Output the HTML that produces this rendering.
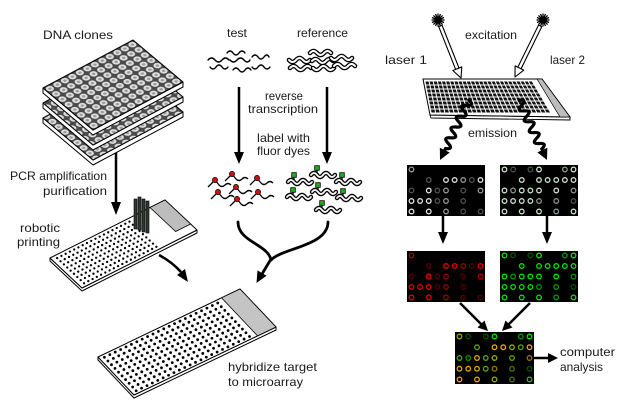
<!DOCTYPE html>
<html><head><meta charset="utf-8">
<style>
html,body{margin:0;padding:0;background:#fff;width:623px;height:408px;overflow:hidden}
svg{display:block}
text{font-family:"Liberation Sans",sans-serif;font-size:12px;fill:#1a1a1a}
</style></head><body>
<svg id="s" width="623" height="408" viewBox="0 0 623 408" xmlns="http://www.w3.org/2000/svg">
<defs>
<pattern id="wells" patternUnits="userSpaceOnUse" width="1" height="1" patternTransform="matrix(7.5,-4,6.25,5.25,43,88)">
<rect width="1" height="1" fill="#4a4a4a"/>
<circle cx="0.5" cy="0.5" r="0.41" fill="#e0e0e0"/>
<circle cx="0.5" cy="0.5" r="0.18" fill="#9a9a9a"/>
</pattern>
</defs>
<rect width="623" height="408" fill="#fff"/>

<!-- left vertical arrow (behind plates) -->
<line x1="116" y1="150" x2="116" y2="204" stroke="#000" stroke-width="2.5"/>
<polygon points="111,202 121,202 116,215" fill="#000"/>

<!-- plates stack -->
<g stroke="#000" stroke-width="1" stroke-linejoin="round">
<polygon points="43,118 93,160 183,112 183,117 93,165 43,123" fill="#fff"/>
<polygon points="43,118 133,70 183,112 93,160" fill="url(#wells)"/>
<polygon points="43,103 93,145 183,97 183,102 93,150 43,108" fill="#fff"/>
<polygon points="43,103 133,55 183,97 93,145" fill="url(#wells)"/>
<polygon points="43,88 93,130 183,82 183,87 93,135 43,93" fill="#fff"/>
<polygon points="43,88 133,40 183,82 93,130" fill="url(#wells)"/>
</g>

<!-- robotic printing slide -->
<g stroke="#000" stroke-width="1" stroke-linejoin="round">
<polygon points="50,258 82,288 197,230 197,233 82,291 50,261" fill="#fff"/>
<polygon points="50,258 165,200 197,230 82,288" fill="#fff"/>
</g>
<g id="rdots"></g>
<polygon points="150,207.5 165,200 190.6,224 175.6,231.5" fill="#bdbdbd" stroke="#000" stroke-width="0.8"/>
<g fill="#2f3a34" stroke="#000" stroke-width="0.6">
<rect x="134" y="199" width="3" height="30"/>
<rect x="138" y="197" width="3" height="33"/>
<rect x="142" y="199" width="3" height="33"/>
<rect x="146" y="201" width="3" height="32"/>
</g>

<!-- arrow robotic -> hybridize -->
<path d="M159 255 Q172 262 181 272" fill="none" stroke="#000" stroke-width="2.5"/>
<polygon points="185,269 177,275 188,282" fill="#000"/>

<!-- big hybridization slide -->
<g stroke="#000" stroke-width="1" stroke-linejoin="round">
<polygon points="98,357 134,395 276,327 276,330 134,398 98,360" fill="#fff"/>
<polygon points="98,357 240,289 276,327 134,395" fill="#fff"/>
</g>
<g id="bdots"></g>
<polygon points="221.5,297.8 240,289 276,327 257.5,335.8" fill="#c4c4c4" stroke="#000" stroke-width="0.8"/>

<!-- test / reference squiggles -->
<g fill="none" stroke="#000" stroke-width="1.4" stroke-linecap="round">
<path d="M227 53 q3 -4 6 0 t6 0 t6 0"/>
<path d="M208 60 q3.5 -4 7 0 t7 0 t7 0"/>
<path d="M230 60 q3.5 4 7 0 t7 0 t6 0"/>
<path d="M252 57 q3 -4 6 0 t6 0 t5 0"/>
<path d="M210 67 q3 4 6 0 t6 0 t6 0"/>
<path d="M233 70 q3 -4 6 0 t6 0 t6 0"/>
<path d="M252 67 q3 4 6 0 t6 0 t6 0"/>
</g>
<g id="refsq"></g>

<!-- vertical arrows test/ref -->
<line x1="239" y1="87" x2="239" y2="154" stroke="#000" stroke-width="2.5"/>
<polygon points="234,152 244,152 239,164" fill="#000"/>
<line x1="327" y1="87" x2="327" y2="154" stroke="#000" stroke-width="2.5"/>
<polygon points="322,152 332,152 327,164" fill="#000"/>

<g id="mol"></g>

<!-- merging curved arrow -->
<g fill="none" stroke="#000" stroke-width="2.8" stroke-linecap="round">
<path d="M238 222 C238 242 268 244 271 260"/>
<path d="M328 222 C328 246 282 248 271 260"/>
<path d="M271 259 L262 274"/>
</g>
<polygon points="266.5,275.8 257.5,270.4 256.5,283" fill="#000"/>

<!-- right: scanning slide -->
<polygon points="430,115 570,117 570,120 431,118" fill="#fff" stroke="#000" stroke-width="0.9"/>
<polygon points="423,79 542,79 570,117 430,115" fill="#fff" stroke="#000" stroke-width="1"/>
<g id="sgrid"></g>
<polygon points="537,79 542,79 570,117 560,117" fill="#bcbcbc" stroke="#000" stroke-width="0.7"/>

<g id="lasers"></g>
<g id="waves"></g>

<!-- panels -->
<rect x="407" y="165" width="78" height="51" fill="#000"/>
<rect x="500" y="165" width="78" height="51" fill="#000"/>
<rect x="407" y="251" width="78" height="51" fill="#000"/>
<rect x="500" y="251" width="78" height="51" fill="#000"/>
<rect x="455" y="332" width="79" height="52" fill="#000"/>
<g id="spots"></g>

<!-- panel arrows -->
<line x1="443" y1="216" x2="443" y2="234" stroke="#000" stroke-width="2.5"/>
<polygon points="438,232 448,232 443,244" fill="#000"/>
<line x1="547" y1="216" x2="547" y2="234" stroke="#000" stroke-width="2.5"/>
<polygon points="542,232 552,232 547,244" fill="#000"/>
<line x1="460" y1="303" x2="482" y2="325" stroke="#000" stroke-width="2.5"/>
<polygon points="484.5,320.5 477.5,327.5 488,331" fill="#000"/>
<line x1="530" y1="303" x2="508" y2="325" stroke="#000" stroke-width="2.5"/>
<polygon points="512.5,327.5 505.5,320.5 502,331" fill="#000"/>
<line x1="534" y1="358" x2="549" y2="358" stroke="#000" stroke-width="2.5"/>
<polygon points="548,353 548,363 558,358" fill="#000"/>

<!-- labels -->
<text x="43" y="39" textLength="70" lengthAdjust="spacingAndGlyphs">DNA clones</text>
<text x="10" y="180" textLength="97" lengthAdjust="spacingAndGlyphs">PCR amplification</text>
<text x="43" y="195" textLength="64" lengthAdjust="spacingAndGlyphs">purification</text>
<text x="20" y="232" textLength="40" lengthAdjust="spacingAndGlyphs">robotic</text>
<text x="17" y="246" textLength="43" lengthAdjust="spacingAndGlyphs">printing</text>
<text x="227" y="37" textLength="20" lengthAdjust="spacingAndGlyphs">test</text>
<text x="297" y="37" textLength="51" lengthAdjust="spacingAndGlyphs">reference</text>
<text x="265" y="100" textLength="38" lengthAdjust="spacingAndGlyphs">reverse</text>
<text x="248" y="113" textLength="70" lengthAdjust="spacingAndGlyphs">transcription</text>
<text x="257" y="142" textLength="53" lengthAdjust="spacingAndGlyphs">label with</text>
<text x="257" y="155" textLength="53" lengthAdjust="spacingAndGlyphs">fluor dyes</text>
<text x="465" y="39" textLength="52" lengthAdjust="spacingAndGlyphs">excitation</text>
<text x="385" y="64" textLength="42" lengthAdjust="spacingAndGlyphs">laser 1</text>
<text x="550" y="64" textLength="35" lengthAdjust="spacingAndGlyphs">laser 2</text>
<text x="468" y="137" textLength="49" lengthAdjust="spacingAndGlyphs">emission</text>
<text x="228" y="371" textLength="89" lengthAdjust="spacingAndGlyphs">hybridize target</text>
<text x="228" y="386" textLength="75" lengthAdjust="spacingAndGlyphs">to microarray</text>
<text x="560" y="356" textLength="55" lengthAdjust="spacingAndGlyphs">computer</text>
<text x="560" y="371" textLength="43" lengthAdjust="spacingAndGlyphs">analysis</text>
</svg>
<script>
(function(){
var NS='http://www.w3.org/2000/svg';
function el(tag,a,p){var e=document.createElementNS(NS,tag);for(var k in a)e.setAttribute(k,a[k]);p.appendChild(e);return e;}
function g(id){return document.getElementById(id);}
// robotic dots
var rd=g('rdots');
for(var i=0;i<18;i++)for(var j=0;j<9;j++){
 var s=0.04+i*0.037,t=0.08+j*0.105;
 el('circle',{cx:50+115*s+32*t,cy:258-58*s+30*t,r:1.15,fill:'#000'},rd);
}
// big dots
var bd=g('bdots');
for(var i=0;i<22;i++)for(var j=0;j<10;j++){
 var s=0.03+i*0.038,t=0.06+j*0.098;
 el('circle',{cx:98+142*s+36*t,cy:357-68*s+38*t,r:1.4,fill:'#000'},bd);
}
// reference squiggles (outlined)
var rs=g('refsq');
var rp=["M310 53 q3.5 -4 7 0 t7 0 t7 0","M289 60 q3.5 4 7 0 t7 0 t7 0","M312 61 q3.5 -4 7 0 t7 0 t7 0","M331 58 q3.5 4 7 0 t7 0 t7 0","M290 68 q3.5 -4 7 0 t7 0 t7 0","M313 68 q3.5 4 7 0 t7 0 t7 0","M334 66 q3.5 -4 7 0 t7 0 t7 0"];
rp.forEach(function(d){
 el('path',{d:d,fill:'none',stroke:'#000','stroke-width':4.6,'stroke-linecap':'round'},rs);
 el('path',{d:d,fill:'none',stroke:'#fff','stroke-width':2,'stroke-linecap':'round'},rs);
});
// labeled molecules
var m=g('mol');
[[215,180],[232,174],[257,178],[236,187],[218,192],[258,192],[237,199]].forEach(function(p){
 var x=p[0],y=p[1];
 el('path',{d:'M'+x+' '+y+' l-7 7 M'+x+' '+y+' l4 5 q3 3 6 0 t6 0',fill:'none',stroke:'#000','stroke-width':1.3},m);
 el('circle',{cx:x,cy:y,r:2.6,fill:'#d01010',stroke:'#000','stroke-width':0.7},m);
});
[[294,175],[317,168],[342,175],[293,190],[318,185],[343,191],[322,203]].forEach(function(p){
 var x=p[0],y=p[1];
 var d='M'+(x-6)+' '+(y+7)+' q3 -4 6 0 t6 0 t6 0 t6 0';
 el('line',{x1:x,y1:y,x2:x,y2:y+6,stroke:'#000','stroke-width':1.2},m);
 el('path',{d:d,fill:'none',stroke:'#000','stroke-width':4.4,'stroke-linecap':'round'},m);
 el('path',{d:d,fill:'none',stroke:'#fff','stroke-width':1.8,'stroke-linecap':'round'},m);
 el('rect',{x:x-2.3,y:y-2.3,width:4.6,height:4.6,fill:'#19b319',stroke:'#000','stroke-width':0.8},m);
});
// scanner slide grid
var sg=g('sgrid');
var y0=81,y1=113;
function xl(y){return 424.5+(y-79)/36*7;}
function xr(y){return 531+(y-79)/36*21;}
el('polygon',{points:xl(y0)+','+y0+' '+xr(y0)+','+y0+' '+xr(y1)+','+y1+' '+xl(y1)+','+y1,fill:'#111'},sg);
var nr=8,nc=26;
for(var k=0;k<=nr;k++){var y=y0+k*(y1-y0)/nr;el('line',{x1:xl(y),y1:y,x2:xr(y),y2:y,stroke:'#fff','stroke-width':1},sg);}
for(var k=0;k<=nc;k++){var a=xl(y0)+(xr(y0)-xl(y0))*k/nc,b=xl(y1)+(xr(y1)-xl(y1))*k/nc;el('line',{x1:a,y1:y0,x2:b,y2:y1,stroke:'#fff','stroke-width':1},sg);}
// lasers
var ls=g('lasers');
[[438,20],[543,20]].forEach(function(c){
 for(var k=0;k<16;k++){var an=k*Math.PI/8;el('line',{x1:c[0],y1:c[1],x2:c[0]+6.5*Math.cos(an),y2:c[1]+6.5*Math.sin(an),stroke:'#000','stroke-width':1.3},ls);}
 el('circle',{cx:c[0],cy:c[1],r:3.8,fill:'#000'},ls);
});
function hollow(tx,ty,ang,len){
 var gg=el('g',{transform:'translate('+tx+','+ty+') rotate('+ang+')'},ls);
 el('rect',{x:-len,y:-1.8,width:len-9,height:3.6,fill:'#fff',stroke:'#000','stroke-width':1.1},gg);
 el('polygon',{points:'0,0 -10,-4.8 -10,4.8',fill:'#fff',stroke:'#000','stroke-width':1.1,'stroke-linejoin':'round'},gg);
}
hollow(461,78,68.4,56);
hollow(515,77,116.2,57);
// emission waves
var wv=g('waves');
function wave(x0,y0,x1,y1){
 var dx=x1-x0,dy=y1-y0,L=Math.sqrt(dx*dx+dy*dy),ang=Math.atan2(dy,dx)*180/Math.PI;
 var gg=el('g',{transform:'translate('+x0+','+y0+') rotate('+ang+')'},wv);
 var h=6,d='M0 0',x=0,sgn=-1;
 while(x+h<=L-11){d+=' Q'+(x+h/2)+' '+(sgn*8)+' '+(x+h)+' 0';x+=h;sgn=-sgn;}
 d+=' L'+(L-10)+' 0';
 el('path',{d:d,fill:'none',stroke:'#000','stroke-width':3.2,'stroke-linecap':'round'},gg);
 el('polygon',{points:L+',0 '+(L-11)+',-5.5 '+(L-11)+',5.5',fill:'#000'},gg);
}
wave(469,100,440,160);
wave(519,100,547,160);
// spots
var sp=g('spots');
var R=["200000000","001033213","103120102","333120100","303020101"];
var G=["310130023","003033333","323330302","333320201","303030203"];
var V=[0,80,150,225];
function panel(x,y,w,h,fn){
 for(var r=0;r<5;r++)for(var c=0;c<9;c++){
  var col=fn(+R[r][c],+G[r][c]);if(!col)continue;
  el('circle',{cx:x+4.5+c*(w-9)/8,cy:y+4.5+r*(h-9)/4,r:2.3,fill:'none',stroke:col,'stroke-width':1.3},sp);
 }
}
panel(407,165,78,51,function(a,b){if(!a)return null;var v=V[a];return 'rgb('+v+','+v+','+v+')';});
panel(500,165,78,51,function(a,b){if(!b)return null;var v=V[b];return 'rgb('+Math.round(v*.9)+','+v+','+Math.round(v*.9)+')';});
panel(407,251,78,51,function(a,b){if(!a)return null;return 'rgb('+V[a]+',0,0)';});
panel(500,251,78,51,function(a,b){if(!b)return null;return 'rgb(0,'+V[b]+',0)';});
panel(455,332,79,52,function(a,b){if(!a&&!b)return null;var rr=V[a],gg=Math.round(V[b]*(a?0.75:1));return 'rgb('+rr+','+gg+',0)';});
})();
</script>
</body></html>
